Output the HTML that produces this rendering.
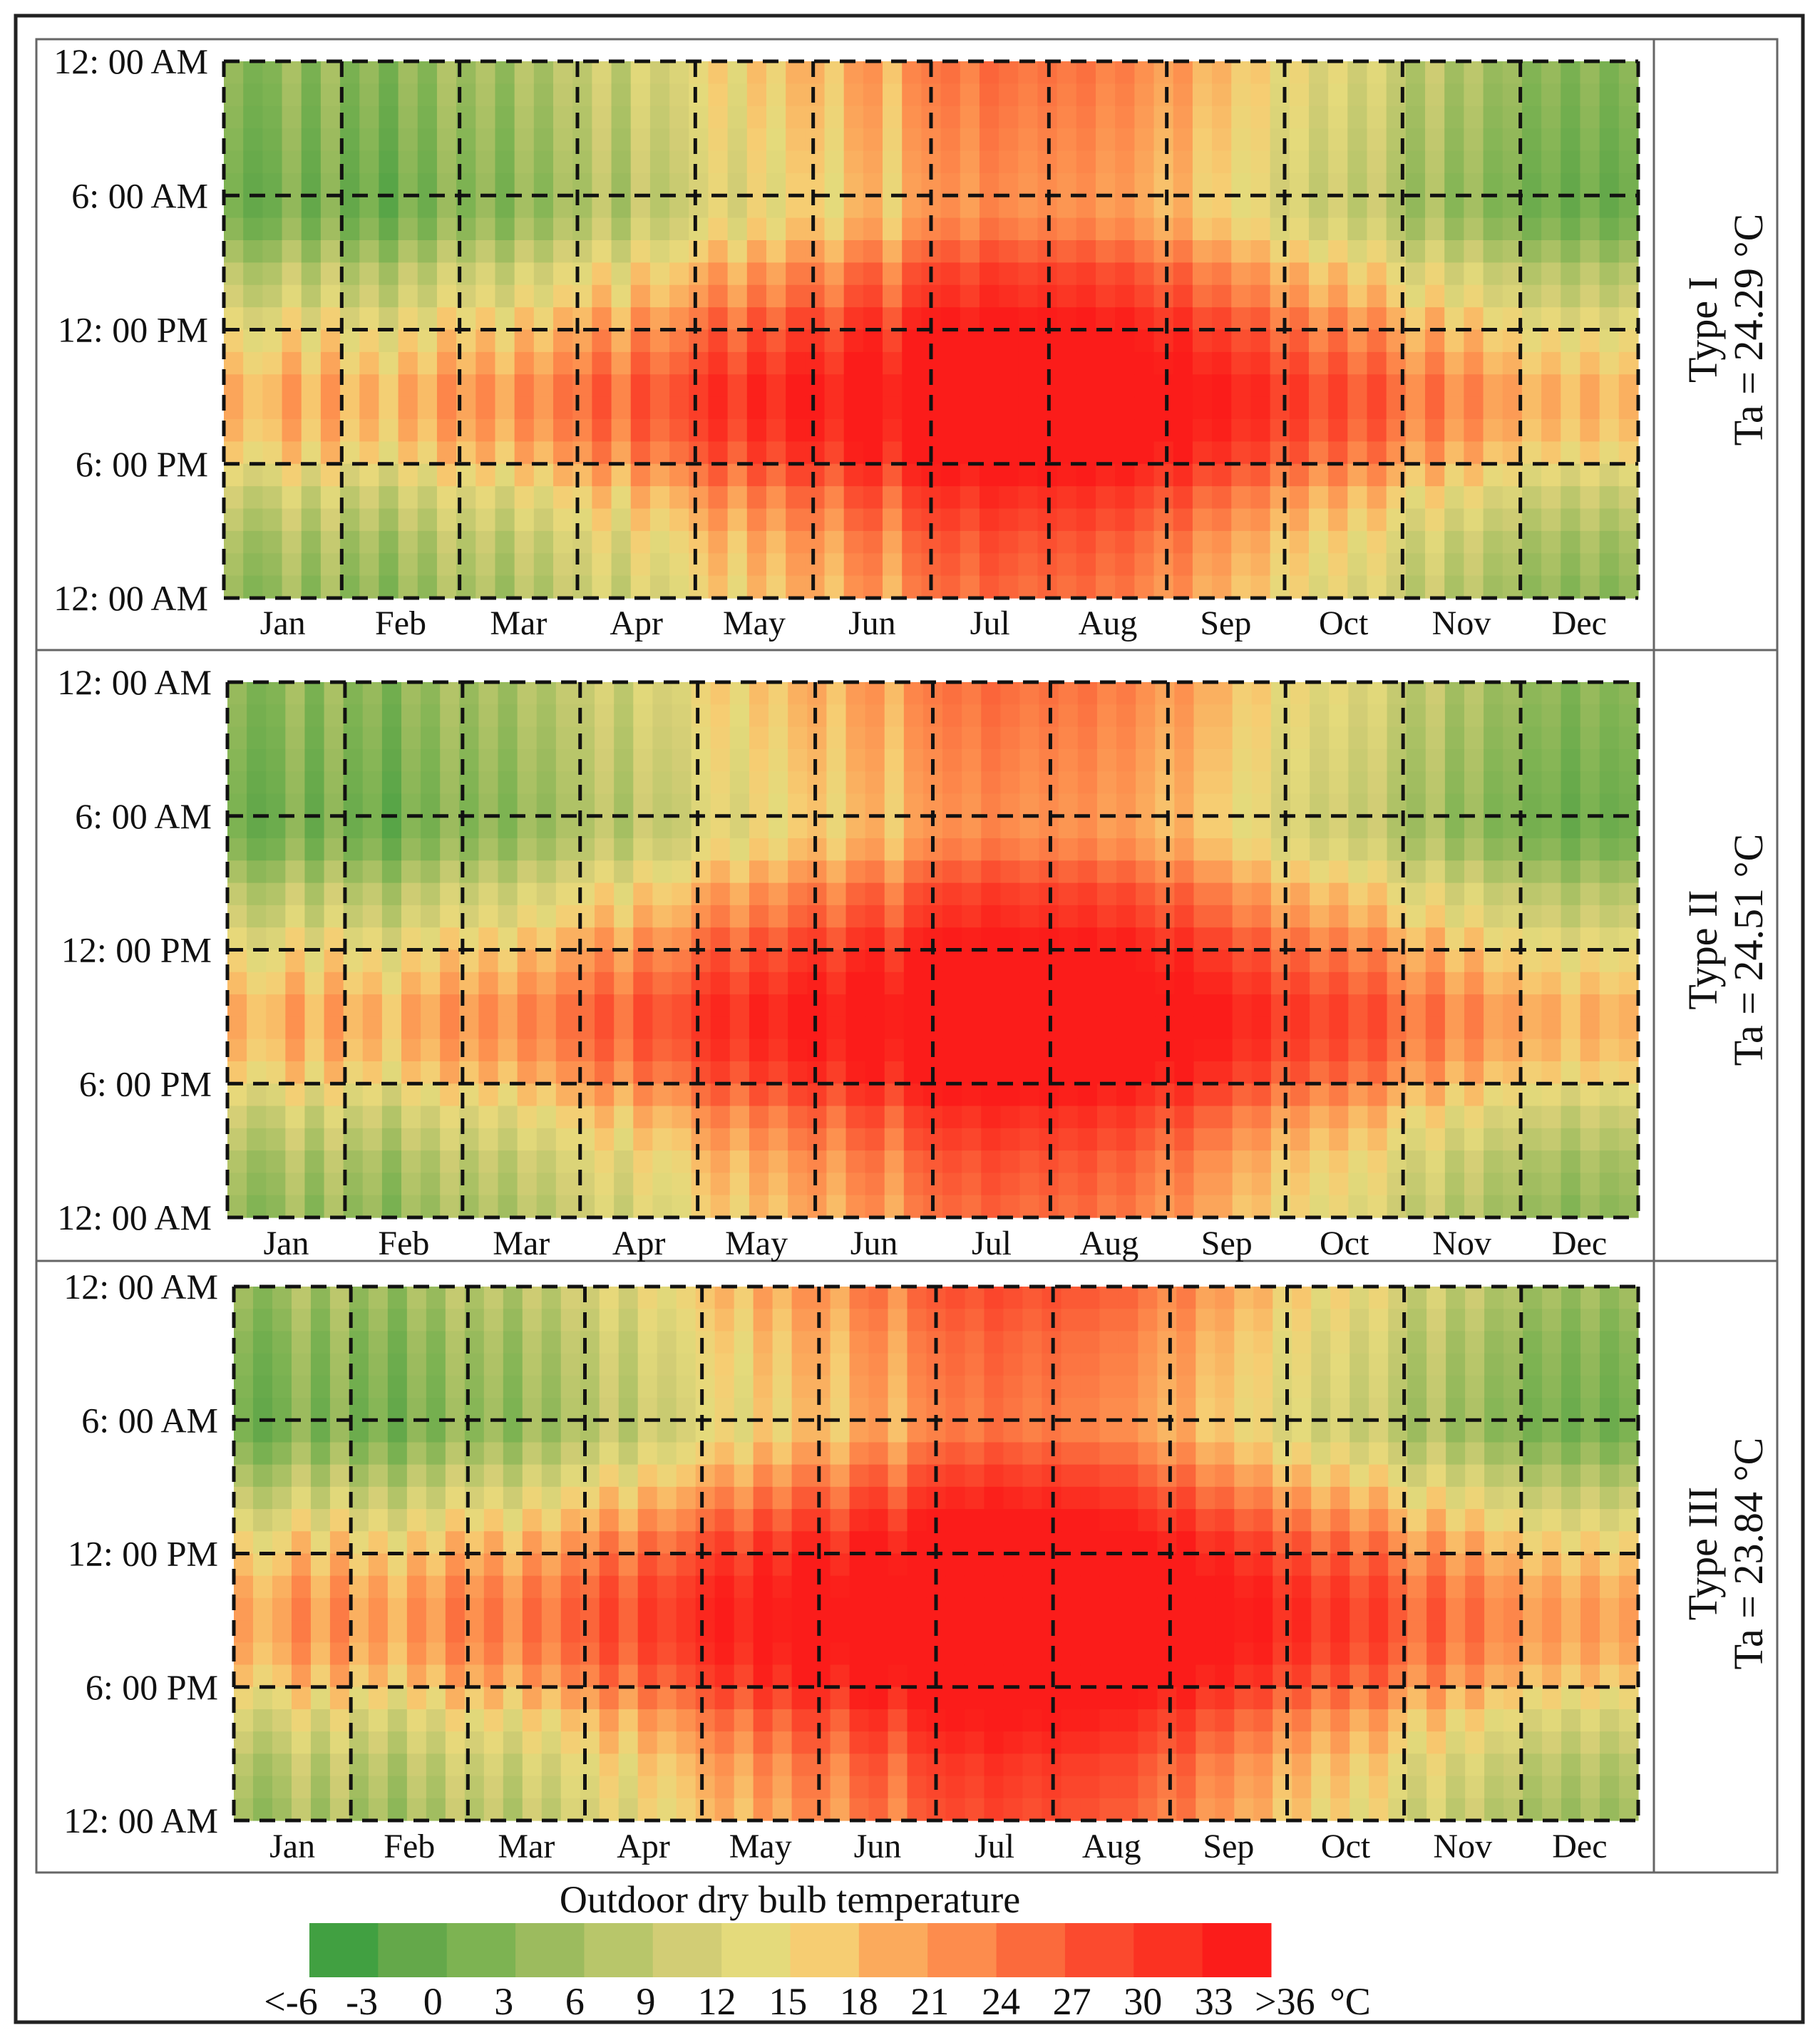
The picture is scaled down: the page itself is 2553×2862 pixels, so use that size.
<!DOCTYPE html>
<html><head><meta charset="utf-8"><style>
html,body{margin:0;padding:0;background:#fff;}
svg{display:block;font-family:"Liberation Serif",serif;}
</style></head><body>
<svg id="chart" width="2553" height="2862" viewBox="0 0 2553 2862">
<rect x="22" y="22" width="2507" height="2815" fill="none" stroke="#222" stroke-width="5"/>
<rect x="51" y="55" width="2442" height="2572" fill="none" stroke="#666" stroke-width="3"/>
<line x1="51" y1="912" x2="2493" y2="912" stroke="#666" stroke-width="3"/>
<line x1="51" y1="1769" x2="2493" y2="1769" stroke="#666" stroke-width="3"/>
<line x1="2320" y1="55" x2="2320" y2="2627" stroke="#666" stroke-width="3"/>
<g id="panels"></g>
<g id="legend">
<text x="1108" y="2683" font-size="54" text-anchor="middle" fill="#111">Outdoor dry bulb temperature</text>
</g>
</svg>
<script>
const months = ["Jan","Feb","Mar","Apr","May","Jun","Jul","Aug","Sep","Oct","Nov","Dec"];
const hourTicks = ["12:  00 AM","6:  00 AM","12:  00 PM","6:  00 PM","12:  00 AM"];
const legendLabels = ["<-6","-3","0","3","6","9","12","15","18","21","24","27","30","33",">36"];
const legendColors = ["#41a041","#64a84a","#7db352","#9cbb5e","#b8c66a","#d2cd75","#e4da7b","#f6cd72","#fbaa5c","#fd8c4d","#fb6a3c","#fb4a2e","#fb3222","#fb1c1a"];
const panelTitles = ["Type I","Type II","Type III"];
const panelTa = ["Ta = 24.29 °C","Ta = 24.51 °C","Ta = 23.84 °C"];
// five-day mean temperatures (73 pentads)
const pentadI = [9,6,7,11,6,11, 6,9,5,10,7,12, 9,12,8,13,10,14, 13,17,12,18,15,17, 19,22,18,23,20,24, 24,21,26,27,22,28, 29,30,28,31,30,29, 30,29,30,28,29,27, 25,27,23,24,21,22, 18,20,16,19,15,18, 14,11,15,10,13,9, 10,7,9,6,9,6,8];
const pentadII = [9,6,7,11,6,11, 7,9,5,10,8,12, 9,12,9,13,11,14, 14,17,13,18,16,17, 20,22,19,23,21,24, 25,22,26,27,23,28, 29,30,29,31,30,29, 30,29,30,28,29,27, 25,27,24,24,21,22, 18,20,17,19,16,18, 14,12,15,10,13,9, 10,8,9,6,9,7,8];
const pentadIII = [8,5,7,11,6,11, 6,9,5,10,7,12, 9,12,8,13,10,14, 13,17,13,18,16,18, 20,22,19,24,21,25, 25,22,27,28,24,29, 30,31,30,32,31,30, 31,30,30,29,29,27, 25,27,23,24,21,22, 18,20,16,19,15,18, 14,11,15,10,13,9, 10,7,9,6,9,6,8];
// hourly offsets from daily mean
const hourOffI = [-5,-5.5,-6,-6.5,-7,-7.5,-7.5,-6,-3,0,2,5,7,9,11,11,10,8,5,2,0,-2,-3,-4];
const hourOffII = [-5,-5.5,-6,-6.5,-7,-7.5,-7.5,-6,-3,0,2,5,7,9,11,11,10,8,5,2,0,-2,-3,-4];
const hourOffIII = [-3,-4,-5,-5.5,-6,-6.5,-6.5,-4,-1,2,5,8,10,12,13,13,12,10,7,4,2,0,-1,-2];
const pentads = [pentadI,pentadII,pentadIII];
const hourOffs = [hourOffI,hourOffII,hourOffIII];
const geo = [{x0:314,x1:2298,y0:86,y1:839,lab:890},{x0:319,x1:2298,y0:957,y1:1708,lab:1760},{x0:328,x1:2298,y0:1805,y1:2554,lab:2606}];
const NS="http://www.w3.org/2000/svg";
function el(t,a,p){const e=document.createElementNS(NS,t);for(const k in a)e.setAttribute(k,a[k]);p.appendChild(e);return e;}
function hex(c){return [1,3,5].map(i=>parseInt(c.substr(i,2),16));}
const rgbs=legendColors.map(hex);
function color(v){let t=(v+6)/3-0.5;t=Math.max(0,Math.min(13,t));const i=Math.min(12,Math.floor(t)),f=t-i;const a=rgbs[i],b=rgbs[i+1];return "rgb("+a.map((x,k)=>Math.round(x+(b[k]-x)*f)).join(",")+")";}
const root=document.getElementById("panels");
geo.forEach((g,p)=>{
  const gp=el("g",{},root);
  
  
  const W=g.x1-g.x0,H=g.y1-g.y0;
  const xd=d=>g.x0+d/365*W, yh=h=>g.y0+h/24*H;
  const data=pentads[p],off=hourOffs[p];
  data.forEach((v,k)=>{
    const xa=xd(k*5),xb=xd(Math.min(365,k*5+5));
    off.forEach((o,h)=>{
      const r=el("rect",{x:xa,y:yh(h),width:xb-xa+0.6,height:H/24+0.6,fill:color(v+o)},gp);
      
      
    });
  });
  for(let m=0;m<=12;m++){
    const x=g.x0+m*W/12;
    const l=el("line",{x1:x,y1:g.y0,x2:x,y2:g.y1,stroke:"#111","stroke-width":5,"stroke-dasharray":"22 14"},gp);
    
    
  }
  for(let h=0;h<=4;h++){
    const y=yh(h*6);
    const l=el("line",{x1:g.x0,y1:y,x2:g.x1,y2:y,stroke:"#111","stroke-width":5,"stroke-dasharray":"22 14"},gp);
    
    
    const t=el("text",{x:g.x0-22,y:y+17,"font-size":50,"text-anchor":"end",fill:"#111"},gp);
    t.textContent=hourTicks[h];
    
    
  }
  months.forEach((m,i)=>{
    const t=el("text",{x:g.x0+(i+0.5)*W/12,y:g.lab,"font-size":48,"text-anchor":"middle",fill:"#111"},gp);
    t.textContent=m;
    
    
  });
  const cy=(g.y0+g.y1)/2;
  const t1=el("text",{x:0,y:0,"font-size":58,"text-anchor":"middle",fill:"#111",transform:"translate(2408,"+cy+") rotate(-90)"},gp);
  t1.textContent=panelTitles[p];
  
  
  const t2=el("text",{x:0,y:0,"font-size":58,"text-anchor":"middle",fill:"#111",transform:"translate(2472,"+cy+") rotate(-90)"},gp);
  t2.textContent=panelTa[p];
  
  
});
const lg=document.getElementById("legend");
const bx0=434,bx1=1783,sw=(bx1-bx0)/legendColors.length;
legendColors.forEach((c,i)=>{
  const r=el("rect",{x:bx0+i*sw,y:2698,width:sw+0.5,height:76,fill:c},lg);
  
  
});
legendLabels.forEach((s,i)=>{
  const t=el("text",{x:408+i*99.6,y:2826,"font-size":54,"text-anchor":"middle",fill:"#111"},lg);
  t.textContent=s;
  
  
});
const u=el("text",{x:1894,y:2826,"font-size":54,"text-anchor":"middle",fill:"#111"},lg);
u.textContent="°C";


</script>
</body></html>
